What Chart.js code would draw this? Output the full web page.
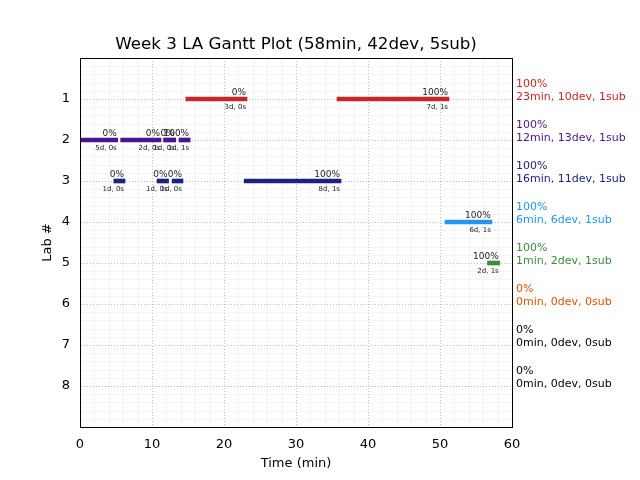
<!DOCTYPE html>
<html>
<head>
<meta charset="utf-8">
<script src="https://cdn.jsdelivr.net/npm/chart.js@4/dist/chart.umd.min.js"></script>
<style>
  html, body { margin: 0; padding: 0; background: #fff; }
  #wrap { width: 640px; height: 480px; }
</style>
</head>
<body>
<div id="wrap"><canvas id="gantt" width="640" height="480"></canvas></div>
<script>
const FONT = "'DejaVu Sans', sans-serif"
const TITLE = 'Week 3 LA Gantt Plot (58min, 42dev, 5sub)'

// lab summary (right side)
const labNumbers = [1, 2, 3, 4, 5, 6, 7, 8]
const labColors = ['#c62828', '#4a148c', '#1a237e', '#2196f3', '#388e3c', '#e65100', '#000000', '#000000']
const labPct = ['100%', '100%', '100%', '100%', '100%', '0%', '0%', '0%']
const labSummary = [
  '23min, 10dev, 1sub', '12min, 13dev, 1sub', '16min, 11dev, 1sub', '6min, 6dev, 1sub',
  '1min, 2dev, 1sub', '0min, 0dev, 0sub', '0min, 0dev, 0sub', '0min, 0dev, 0sub'
]

// gantt segments
const segLab   = [1, 1, 2, 2, 2, 2, 3, 3, 3, 3, 4, 5]
const segStart = [14.7, 35.7, 0, 5.65, 11.6, 13.75, 4.7, 10.7, 12.8, 22.8, 50.7, 56.6]
const segEnd   = [23.2, 51.25, 5.24, 11.25, 13.3, 15.3, 6.25, 12.3, 14.3, 36.25, 57.2, 58.3]
const segPct   = ['0%', '100%', '0%', '0%', '0%', '100%', '0%', '0%', '0%', '100%', '100%', '100%']
const segInfo  = ['3d, 0s', '7d, 1s', '5d, 0s', '2d, 0s', '1d, 0s', '1d, 1s', '1d, 0s', '1d, 0s', '1d, 0s', '8d, 1s', '6d, 1s', '2d, 1s']

const xTicks = [0, 10, 20, 30, 40, 50, 60]

// one dataset per lab that has segments
const datasets = []
labNumbers.forEach((lab, i) => {
  const idx = segLab.map((l, k) => l === lab ? k : -1).filter(k => k >= 0)
  if (!idx.length) return
  datasets.push({
    label: 'Lab ' + lab,
    data: idx.map(k => ({ y: lab, x: [segStart[k], segEnd[k]] })),
    segIdx: idx,
    backgroundColor: labColors[i],
    borderWidth: 0,
    barThickness: 4,
    grouped: false
  })
})

// faint minor grid, behind everything
const minorGrid = {
  id: 'minorGrid',
  beforeDraw(chart) {
    const { ctx, chartArea: a, scales } = chart
    ctx.save()
    ctx.strokeStyle = '#f4f4f4'
    ctx.lineWidth = 1
    for (let v = 2; v < 60; v += 2) {
      if (v % 10 === 0) continue
      const px = Math.round(scales.x.getPixelForValue(v)) + 0.5
      ctx.beginPath(); ctx.moveTo(px, a.top); ctx.lineTo(px, a.bottom); ctx.stroke()
    }
    for (let k = 1; k < 45; k++) {
      if (k % 5 === 0) continue
      const py = Math.round(scales.y.getPixelForValue(k * 0.2)) + 0.5
      ctx.beginPath(); ctx.moveTo(a.left, py); ctx.lineTo(a.right, py); ctx.stroke()
    }
    ctx.restore()
  }
}

// labels on bars, frame, title and right-side summary
const annotations = {
  id: 'annotations',
  afterDraw(chart) {
    const { ctx, chartArea: a, scales } = chart
    ctx.save()
    chart.data.datasets.forEach((ds, di) => {
      const meta = chart.getDatasetMeta(di)
      meta.data.forEach((el, j) => {
        const k = ds.segIdx[j]
        const { x, base, y } = el.getProps(['x', 'base', 'y'], true)
        const right = Math.max(x, base) - 1
        ctx.fillStyle = '#222'
        ctx.textAlign = 'right'
        ctx.font = '9px ' + FONT
        ctx.textBaseline = 'alphabetic'
        ctx.fillText(segPct[k], right, y - 4)
        ctx.font = '7px ' + FONT
        ctx.textBaseline = 'top'
        ctx.fillText(segInfo[k], right, y + 5)
      })
    })

    ctx.strokeStyle = '#000'
    ctx.lineWidth = 1
    ctx.strokeRect(Math.round(a.left) + 0.5, Math.round(a.top) + 0.5, Math.round(a.right - a.left), Math.round(a.bottom - a.top))

    // title centred over the plot area
    ctx.fillStyle = '#000'
    ctx.font = '16.7px ' + FONT
    ctx.textAlign = 'center'
    ctx.textBaseline = 'middle'
    ctx.fillText(TITLE, (a.left + a.right) / 2, 45)

    ctx.font = '11px ' + FONT
    ctx.textAlign = 'left'
    ctx.textBaseline = 'alphabetic'
    labNumbers.forEach((lab, i) => {
      const py = scales.y.getPixelForValue(lab)
      ctx.fillStyle = labColors[i]
      ctx.fillText(labPct[i], a.right + 4, py - 12.5)
      ctx.fillText(labSummary[i], a.right + 4, py + 0.5)
    })
    ctx.restore()
  }
}

const chartOptions = {
  type: 'bar',
  data: { datasets: datasets },
  options: {
    indexAxis: 'y',
    responsive: false,
    animation: false,
    layout: { padding: { left: 40, right: 128, top: 58, bottom: 0 } },
    plugins: {
      legend: { display: false },
      tooltip: { enabled: false },
      title: { display: false }
    },
    scales: {
      x: {
        type: 'linear',
        min: 0,
        max: 60,
        afterBuildTicks: (s) => { s.ticks = xTicks.map(v => ({ value: v })) },
        afterFit: (s) => { s.height = 53 },
        ticks: { color: '#000', font: { family: FONT, size: 13 }, padding: 10, maxRotation: 0 },
        grid: { color: '#bdbdbd', drawTicks: false, lineWidth: 1 },
        border: { display: true, color: '#000', dash: [1, 2] },
        title: { display: true, text: 'Time (min)', color: '#000', font: { family: FONT, size: 13 }, padding: { top: 0, bottom: 9 } }
      },
      y: {
        type: 'linear',
        min: 0,
        max: 9,
        reverse: true,
        offset: false,
        afterBuildTicks: (s) => { s.ticks = labNumbers.map(v => ({ value: v })) },
        afterFit: (s) => { s.width = 40 },
        ticks: { color: '#000', font: { family: FONT, size: 13 }, padding: 10 },
        grid: { color: '#bdbdbd', drawTicks: false, lineWidth: 1, offset: false },
        border: { display: true, color: '#000', dash: [1, 2] },
        title: { display: true, text: 'Lab #', color: '#000', font: { family: FONT, size: 13 }, padding: { top: 0, bottom: 0 } }
      }
    }
  },
  plugins: [minorGrid, annotations]
}

const ganttChart = new Chart(document.getElementById('gantt'), chartOptions)
</script>
</body>
</html>
